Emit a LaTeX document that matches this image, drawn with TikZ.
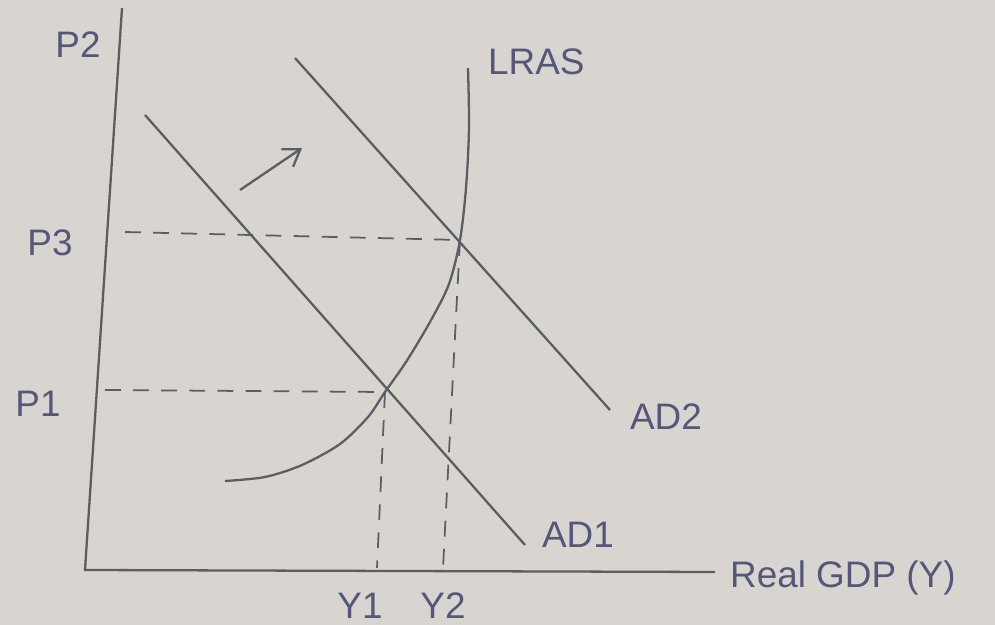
\documentclass[tikz,border=0pt]{standalone}
\usepackage{fontspec}
\setmainfont{Liberation Sans}
\usetikzlibrary{arrows.meta}
\definecolor{paper}{HTML}{D8D5D1}
\definecolor{pencil}{HTML}{5C5C62}
\definecolor{ink}{HTML}{55577A}

\begin{document}
\begin{tikzpicture}[x=0.02cm,y=-0.02cm,font=\fontsize{21}{25}\selectfont,
    curve/.style={pencil,line width=1.3pt},
    guide/.style={pencil,line width=1pt,dash pattern=on 9pt off 7pt},
    lbl/.style={ink,inner sep=1pt}]

  \fill[paper] (0,0) rectangle (995,625);

  % ===== AXES =====
  \coordinate (origin) at (85,570);
  \coordinate (ytop) at (122,8);
  \coordinate (xend) at (715,572);
  \draw[curve] (ytop) -- (origin) -- (xend);
  \node[lbl] (plabel) at (78,45) {P2};
  \node[lbl,anchor=west] (xlabel) at (728,578) {Real GDP (Y)};

  % ===== AD CURVES =====
  \coordinate (ad1top) at (145,115);
  \coordinate (ad1end) at (525,545);
  \coordinate (ad2top) at (295,58);
  \coordinate (ad2end) at (610,410);
  \draw[curve] (ad1top) -- (ad1end);
  \draw[curve] (ad2top) -- (ad2end);
  \node[lbl,anchor=west] (ad1) at (540,535) {AD1};
  \node[lbl,anchor=west] (ad2) at (628,417) {AD2};

  % ===== LRAS =====
  \coordinate (e1) at (385,392);
  \coordinate (e2) at (460,240);
  \draw[curve] plot[smooth] coordinates {(225,481) (265,477) (302,465)
        (340,444) (368,417) (e1) (406,362) (430,322) (449,284) (e2)
        (466,188) (469,128) (468,68)};
  \node[lbl,anchor=west] (lras) at (486,62) {LRAS};

  % shift arrow
  \coordinate (sh0) at (240,190);
  \coordinate (sh1) at (302,148);
  \draw[curve,-{Straight Barb[length=9pt,width=12pt]}] (sh0) -- (sh1);

  % ===== GUIDES =====
  \draw[guide] (125,232) -- (e2);
  \draw[guide] (105,390) -- (e1);
  \draw[guide] (e1) -- (377,568);
  \draw[guide] (e2) -- (443,568);
  \node[lbl] (p3) at (50,243) {P3};
  \node[lbl] (p1) at (38,404) {P1};
  \node[lbl] (y1) at (360,606) {Y1};
  \node[lbl] (y2) at (443,606) {Y2};

\end{tikzpicture}
\end{document}
